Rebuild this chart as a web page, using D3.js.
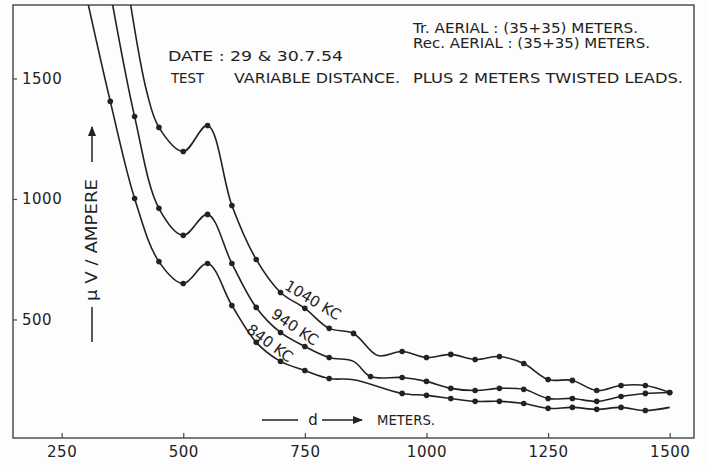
<!DOCTYPE html>
<html>
<head>
<meta charset="utf-8">
<script src="https://cdn.jsdelivr.net/npm/d3@7"></script>
<style>
    body { margin: 0; background: #fff; }
    svg text { font-family: "DejaVu Sans", sans-serif; fill: #222; }
</style>
</head>
<body>
<svg id="chart" width="708" height="466"></svg>
<script>
// readings as [distance in meters, microvolt per ampere, plotted point? 1/0]
var kc840 = [[300, 1850, 0], [350, 1405, 1], [400, 1002, 1], [450, 740, 1], [500, 649, 1], [550, 732, 1],
    [600, 558, 1], [650, 405, 1], [700, 326, 1], [750, 288, 1], [800, 255, 1], [850, 250, 0],
    [950, 193, 1], [1000, 185, 1], [1050, 172, 1], [1100, 160, 1], [1150, 160, 1], [1200, 151, 1],
    [1250, 131, 1], [1300, 135, 1], [1350, 127, 1], [1400, 135, 1], [1450, 122, 1], [1500, 135, 0]];
var kc940 = [[350, 1860, 0], [400, 1342, 1], [450, 961, 1], [500, 849, 1], [550, 936, 1], [600, 732, 1],
    [650, 550, 1], [700, 446, 1], [750, 388, 1], [800, 342, 1], [850, 326, 0], [885, 263, 1],
    [950, 259, 1], [1000, 243, 1], [1050, 214, 1], [1100, 205, 1], [1150, 214, 1], [1200, 210, 1],
    [1250, 172, 1], [1300, 172, 1], [1350, 160, 1], [1400, 180, 1], [1450, 193, 1], [1500, 197, 1]];
var kc1040 = [[390, 1830, 0], [425, 1445, 0], [450, 1297, 1], [500, 1197, 1], [550, 1305, 1], [600, 973, 1],
    [650, 749, 1], [700, 612, 1], [750, 546, 1], [800, 463, 1], [850, 442, 1], [900, 350, 0],
    [950, 367, 1], [1000, 342, 1], [1050, 355, 1], [1100, 334, 1], [1150, 346, 1], [1200, 317, 1],
    [1250, 251, 1], [1300, 247, 1], [1350, 205, 1], [1400, 226, 1], [1450, 226, 1], [1500, 197, 1]];

var xTicks = [250, 500, 750, 1000, 1250, 1500];
var yTicks = [500, 1000, 1500];
var curveNames = ["840 KC", "940 KC", "1040 KC"];

var ink = "#222",
    plotLeft = 13, plotRight = 694, plotTop = 5, plotBottom = 438;

var svg = d3.select("#chart");

var x = d3.scaleLinear().domain([150, 1550]).range([plotLeft, plotRight]);
var y = d3.scaleLinear().domain([8, 1805]).range([plotBottom, plotTop]);

svg.append("rect")
    .attr("width", 708)
    .attr("height", 466)
    .style("fill", "#fdfdfd");

var defs = svg.append("defs");
defs.append("clipPath")
    .attr("id", "plotClip")
    .append("rect")
    .attr("x", plotLeft)
    .attr("y", plotTop)
    .attr("width", plotRight - plotLeft)
    .attr("height", plotBottom - plotTop);

// arrow marker
defs.append("marker")
    .attr("id", "arrow")
    .attr("viewBox", "0 0 10 10")
    .attr("refX", 9)
    .attr("refY", 5)
    .attr("markerWidth", 7)
    .attr("markerHeight", 7)
    .attr("orient", "auto")
    .append("path")
    .attr("d", "M0,1 L10,5 L0,9 Z")
    .style("fill", ink);

// frame
svg.append("rect")
    .attr("x", plotLeft)
    .attr("y", plotTop)
    .attr("width", plotRight - plotLeft)
    .attr("height", plotBottom - plotTop)
    .style("fill", "none")
    .style("stroke", "#444")
    .style("stroke-width", 1.4);

// axes, ticks pointing into the plot
svg.append("g")
    .attr("transform", "translate(0," + plotBottom + ")")
    .call(d3.axisTop(x).tickValues(xTicks).tickFormat(d3.format("d")).tickSize(5).tickPadding(-24))
    .call(function(g) {
        g.select(".domain").remove();
        g.selectAll("line").style("stroke", "#444").style("stroke-width", 1.2);
        g.selectAll("text").style("font-size", "15px").style("letter-spacing", "0.5px").style("fill", ink);
    });

svg.append("g")
    .attr("transform", "translate(" + plotLeft + ",0)")
    .call(d3.axisRight(y).tickValues(yTicks).tickFormat(d3.format("d")).tickSize(4))
    .call(function(g) {
        g.select(".domain").remove();
        g.selectAll("line").style("stroke", "#444").style("stroke-width", 1.2);
        g.selectAll("text").style("font-size", "15px").style("letter-spacing", "0.5px")
            .style("fill", ink).attr("text-anchor", "start").attr("x", 9);
    });

var line = d3.line()
    .x(function(d) { return x(d[0]); })
    .y(function(d) { return y(d[1]); })
    .curve(d3.curveCatmullRom.alpha(0.5));

var plot = svg.append("g").attr("clip-path", "url(#plotClip)");

[kc840, kc940, kc1040].forEach(function(series) {
    plot.append("path")
        .attr("d", line(series))
        .style("fill", "none")
        .style("stroke", ink)
        .style("stroke-width", 1.6);
    plot.selectAll(null)
        .data(series.filter(function(d) { return d[2] == 1; }))
        .enter()
        .append("circle")
        .attr("cx", function(d) { return x(d[0]); })
        .attr("cy", function(d) { return y(d[1]); })
        .attr("r", 2.8)
        .style("fill", ink);
});

// curve labels, written along the curves
var labelSpots = [[270, 343, 36], [295, 327, 34], [313, 300, 31]];
curveNames.forEach(function(name, i) {
    var s = labelSpots[i];
    svg.append("text")
        .attr("transform", "translate(" + s[0] + "," + s[1] + ") rotate(" + s[2] + ")")
        .attr("text-anchor", "middle")
        .attr("dy", "0.35em")
        .style("font-size", "15px")
        .text(name);
});

// notes
function note(tx, ty, str, len) {
    svg.append("text")
        .attr("x", tx)
        .attr("y", ty)
        .attr("textLength", len)
        .attr("lengthAdjust", "spacingAndGlyphs")
        .style("font-size", "14.5px")
        .text(str);
}
note(413, 33, "Tr. AERIAL : (35+35) METERS.", 225);
note(413, 48, "Rec. AERIAL : (35+35)  METERS.", 237);
note(168, 61, "DATE  :  29 & 30.7.54", 175);
note(171, 83, "TEST", 33);
note(234, 83, "VARIABLE  DISTANCE.", 166);
note(413, 83, "PLUS  2 METERS  TWISTED  LEADS.", 270);

// y label
svg.append("line")
    .attr("x1", 92).attr("y1", 342).attr("x2", 92).attr("y2", 307)
    .style("stroke", ink).style("stroke-width", 1.5);
svg.append("text")
    .attr("transform", "translate(97,240) rotate(-90)")
    .attr("text-anchor", "middle")
    .attr("textLength", 122)
    .attr("lengthAdjust", "spacingAndGlyphs")
    .style("font-size", "15px")
    .text("μ V / AMPERE");
svg.append("line")
    .attr("x1", 92).attr("y1", 162).attr("x2", 92).attr("y2", 127)
    .attr("marker-end", "url(#arrow)")
    .style("stroke", ink).style("stroke-width", 1.5);

// x label
svg.append("line")
    .attr("x1", 262).attr("y1", 420).attr("x2", 298).attr("y2", 420)
    .style("stroke", ink).style("stroke-width", 1.5);
svg.append("text")
    .attr("x", 313).attr("y", 425)
    .attr("text-anchor", "middle")
    .style("font-size", "15px")
    .text("d");
svg.append("line")
    .attr("x1", 322).attr("y1", 420).attr("x2", 362).attr("y2", 420)
    .attr("marker-end", "url(#arrow)")
    .style("stroke", ink).style("stroke-width", 1.5);
svg.append("text")
    .attr("x", 377).attr("y", 425)
    .attr("textLength", 58)
    .attr("lengthAdjust", "spacingAndGlyphs")
    .style("font-size", "14.5px")
    .text("METERS.");
</script>
</body>
</html>
